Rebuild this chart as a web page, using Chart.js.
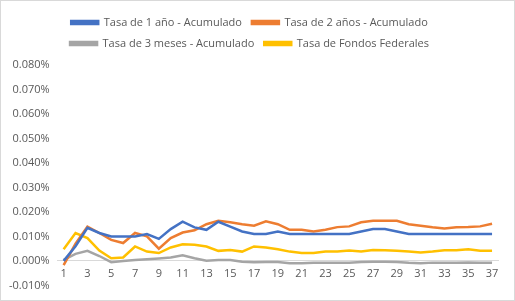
<!DOCTYPE html>
<html>
<head>
<meta charset="utf-8">
<script src="https://cdn.jsdelivr.net/npm/chart.js@4/dist/chart.umd.min.js"></script>
<style>
    html, body { margin: 0; padding: 0; background: #fff; }
    #wrap { width: 513px; height: 299px; border: 1px solid #d9d9d9; position: relative; }
</style>
</head>
<body>
<div id="wrap"><canvas id="chart" width="513" height="299"></canvas></div>
<script>
// periods 1..37
const periods = [];
for (let i = 1; i <= 37; i++) periods.push(String(i));

// values in percent
const tasa1Anio = [0.000, 0.006, 0.0135, 0.0114, 0.010, 0.010, 0.010, 0.011, 0.009, 0.013,
    0.016, 0.0137, 0.0127, 0.016, 0.014, 0.012, 0.011, 0.011, 0.012, 0.011,
    0.011, 0.011, 0.011, 0.011, 0.011, 0.012, 0.013, 0.013, 0.012, 0.011,
    0.011, 0.011, 0.011, 0.011, 0.011, 0.011, 0.011];
const tasa2Anios = [-0.0017, 0.007, 0.014, 0.0114, 0.0086, 0.0073, 0.0114, 0.010, 0.005, 0.0093,
    0.0116, 0.0125, 0.015, 0.0164, 0.0158, 0.015, 0.0144, 0.0162, 0.015, 0.0127,
    0.0127, 0.012, 0.0127, 0.0138, 0.0141, 0.0158, 0.0164, 0.0164, 0.0164, 0.015,
    0.0144, 0.0137, 0.0132, 0.0137, 0.0138, 0.0141, 0.0152];
const tasa3Meses = [0.0004, 0.0029, 0.0041, 0.002, -0.0005, 0.000, 0.0004, 0.0007, 0.001, 0.0014,
    0.0023, 0.0011, 0.0001, 0.0004, 0.0004, -0.0003, -0.0005, -0.0004, -0.0004, -0.001,
    -0.001, -0.0008, -0.0007, -0.0007, -0.0008, -0.0004, -0.0003, -0.0003, -0.0004, -0.0008,
    -0.001, -0.0007, -0.0007, -0.0007, -0.0006, -0.0007, -0.0008];
const tasaFondos = [0.0048, 0.0114, 0.0093, 0.0042, 0.0011, 0.0014, 0.0059, 0.0038, 0.0032, 0.0055,
    0.0068, 0.0066, 0.0059, 0.0041, 0.0045, 0.0038, 0.0059, 0.0055, 0.0048, 0.0038,
    0.0032, 0.0032, 0.0038, 0.0038, 0.0042, 0.0038, 0.0045, 0.0044, 0.0041, 0.0038,
    0.0034, 0.0038, 0.0044, 0.0044, 0.0048, 0.0042, 0.0042];

const yMin = -0.01;
const yMax = 0.08;
const yStep = 0.01;

const textColor = '#595959';
const font = { family: 'Open Sans', size: 11 };

function makeSet(label, data, color) {
    return {
        label: label,
        data: data,
        borderColor: color,
        backgroundColor: color,
        borderWidth: 2.5,
        pointRadius: 0,
        tension: 0,
        fill: false
    };
}

// extra space under the legend
const legendGap = {
    id: 'legendGap',
    beforeInit(chart) {
        const fit = chart.legend.fit;
        chart.legend.fit = function () {
            fit.bind(chart.legend)();
            this.height += 6;
        };
    }
};

new Chart(document.getElementById('chart').getContext('2d'), {
    type: 'line',
    data: {
        labels: periods,
        datasets: [
            makeSet('Tasa de 1 año - Acumulado', tasa1Anio, '#4472C4'),
            makeSet('Tasa de 2 años - Acumulado', tasa2Anios, '#ED7D31'),
            makeSet('Tasa de 3 meses - Acumulado', tasa3Meses, '#A5A5A5'),
            makeSet('Tasa de Fondos Federales', tasaFondos, '#FFC000')
        ]
    },
    plugins: [legendGap],
    options: {
        responsive: false,
        animation: false,
        layout: { padding: { left: 0, right: 16, top: 6, bottom: 1 } },
        plugins: {
            legend: {
                position: 'top',
                labels: {
                    color: textColor,
                    font: { family: 'Open Sans', size: 11 },
                    boxWidth: 27,
                    boxHeight: 3,
                    padding: 10
                }
            },
            tooltip: { enabled: false }
        },
        scales: {
            x: {
                position: { y: 0 },
                offset: true,
                grid: { display: false, drawTicks: false },
                border: { color: '#d9d9d9' },
                ticks: {
                    color: textColor,
                    font: font,
                    autoSkip: false,
                    maxRotation: 0,
                    padding: 6,
                    callback: function (v, i) { return i % 2 === 0 ? periods[i] : ''; }
                }
            },
            y: {
                min: yMin,
                max: yMax,
                grid: { display: false, drawTicks: false },
                border: { display: false },
                ticks: {
                    stepSize: yStep,
                    color: textColor,
                    font: font,
                    padding: 8,
                    callback: function (v) { return v.toFixed(3) + '%'; }
                }
            }
        }
    }
});
</script>
</body>
</html>
